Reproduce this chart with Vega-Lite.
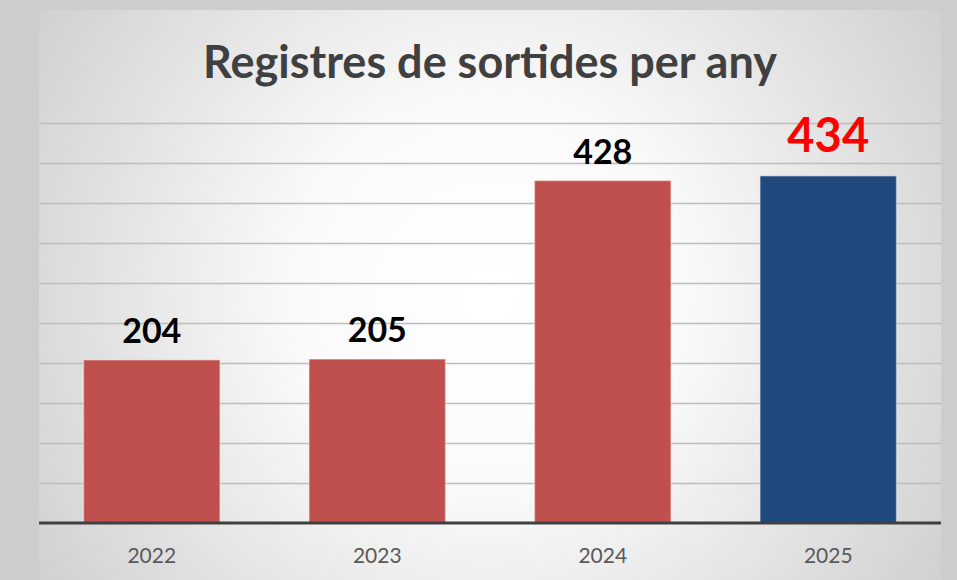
{
  "$schema": "https://vega.github.io/schema/vega-lite/v6.json",
  "width": 902,
  "height": 570,
  "autosize": "none",
  "padding": {"left": 39, "top": 10, "right": 16, "bottom": 0},
  "background": "#cdcdcd",
  "title": {
    "text": "Registres de sortides per any",
    "font": "Lato",
    "fontSize": 45,
    "fontWeight": "bold",
    "color": "#404040",
    "anchor": "middle",
    "baseline": "alphabetic",
    "offset": -113
  },
  "config": {
    "view": {
      "stroke": null,
      "fill": {
        "gradient": "radial",
        "x1": 0.5, "y1": 0.5, "r1": 0,
        "x2": 0.5, "y2": 0.5, "r2": 0.72,
        "stops": [
          {"offset": 0, "color": "#ffffff"},
          {"offset": 0.3, "color": "#fafafa"},
          {"offset": 1, "color": "#c2c2c2"}
        ]
      }
    }
  },
  "data": {
    "values": [
      {"year": "2022", "value": 204},
      {"year": "2023", "value": 205},
      {"year": "2024", "value": 428},
      {"year": "2025", "value": 434}
    ]
  },
  "layer": [
    {
      "mark": {"type": "bar", "stroke": "#ffffff", "strokeOpacity": 0.45, "strokeWidth": 1.5},
      "encoding": {
        "x": {
          "field": "year", "type": "nominal", "sort": null,
          "scale": {"paddingInner": 0.394, "paddingOuter": 0.197},
          "axis": {
            "title": null, "labelAngle": 0, "ticks": false, "domain": false,
            "labelFont": "Lato", "labelFontSize": 21, "labelColor": "#595959",
            "labelPadding": 22, "offset": -57
          }
        },
        "y": {
          "field": "value", "type": "quantitative",
          "scale": {"domain": [-71.25, 641.25], "nice": false, "zero": false},
          "axis": {
            "values": [50, 100, 150, 200, 250, 300, 350, 400, 450, 500],
            "title": null, "labels": false, "ticks": false, "domain": false,
            "grid": true, "gridColor": "#bdbdbd", "gridWidth": 1.5
          }
        },
        "y2": {"datum": 0},
        "color": {
          "condition": {"test": "datum.year === '2025'", "value": "#1F497D"},
          "value": "#C0504D"
        }
      }
    },
    {
      "data": {"values": [{"base": 0}]},
      "mark": {"type": "rule", "color": "#404040", "strokeWidth": 3},
      "encoding": {"y": {"field": "base", "type": "quantitative"}}
    },
    {
      "transform": [{"filter": "datum.year !== '2025'"}],
      "mark": {"type": "text", "font": "Lato", "fontSize": 34, "fontWeight": "bold", "color": "#000000", "baseline": "alphabetic", "dy": -17},
      "encoding": {
        "x": {"field": "year", "type": "nominal", "sort": null},
        "y": {"field": "value", "type": "quantitative"},
        "text": {"field": "value", "type": "quantitative"}
      }
    },
    {
      "transform": [{"filter": "datum.year === '2025'"}],
      "mark": {"type": "text", "font": "Lato", "fontSize": 47, "fontWeight": "bold", "color": "#FF0000", "baseline": "alphabetic", "dy": -24},
      "encoding": {
        "x": {"field": "year", "type": "nominal", "sort": null},
        "y": {"field": "value", "type": "quantitative"},
        "text": {"field": "value", "type": "quantitative"}
      }
    }
  ]
}
